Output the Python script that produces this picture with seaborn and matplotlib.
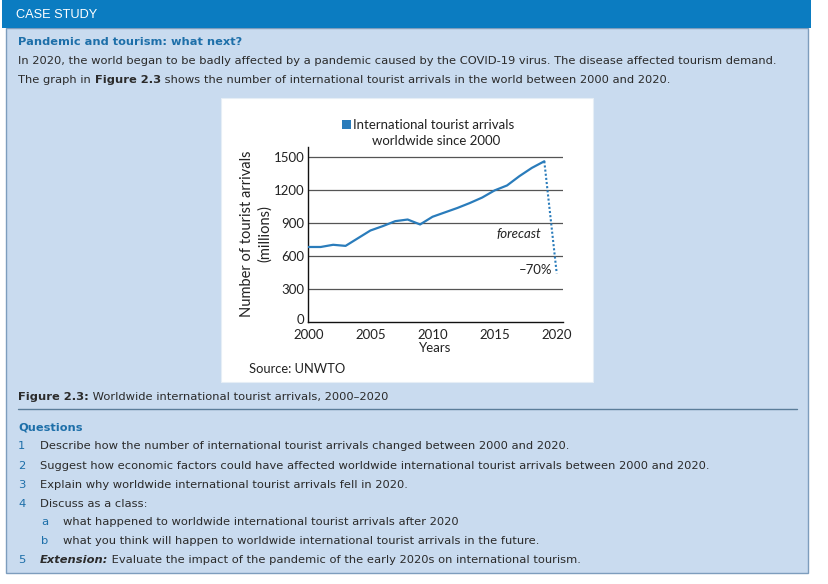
import matplotlib
matplotlib.use("Agg")
import matplotlib.pyplot as plt
import matplotlib.transforms as mtransforms
import seaborn as sns
import pandas as pd
from matplotlib.patches import Rectangle
from matplotlib.lines import Line2D

sns.set_style("white")
plt.rcParams['font.family'] = ['DejaVu Sans']

# ---------------- data ----------------
years = list(range(2000, 2020))
arrivals = [680, 680, 700, 690, 760, 830, 870, 915, 930, 885,
            955, 995, 1035, 1080, 1130, 1195, 1240, 1325, 1400, 1460]
forecast_years = [2019, 2020]
forecast_vals = [1460, 440]
y_ticks = [0, 300, 600, 900, 1200, 1500]
x_ticks = [2000, 2005, 2010, 2015, 2020]

W, H = 829, 584
fig = plt.figure(figsize=(W / 100, H / 100), dpi=100)
fig.patch.set_facecolor("white")

def fx(x): return x / W
def fy(y): return 1 - y / H

def rect(x0, y0, x1, y1, z=-5, **kw):
    r = Rectangle((fx(x0), fy(y1)), (x1 - x0) / W, (y1 - y0) / H,
                  transform=fig.transFigure, zorder=z, **kw)
    fig.add_artist(r)

BLUE_HDR = "#0b7cc1"
BODY = "#c9dbef"
HEAD = "#1d6fa9"
TXT = "#2b2b2b"
FS = 8.25

# header and body panels
rect(6, 28, 808, 573, facecolor=BODY, edgecolor="#7d9dbd", lw=1.0)
rect(2, 0, 811.5, 28, facecolor=BLUE_HDR, edgecolor="none")
rect(221, 98, 593, 382, facecolor="white", edgecolor="#e6eef6", lw=0.8)
fig.add_artist(Line2D([fx(18), fx(797)], [fy(408.5), fy(408.5)],
                      transform=fig.transFigure, color="#5b7d99", lw=1.0))

renderer = fig.canvas.get_renderer()

def seg_text(x, y, segs, size=FS):
    for s, props in segs:
        p = dict(color=TXT, fontsize=size)
        p.update(props)
        t = fig.text(fx(x), fy(y), s, va="center", ha="left", **p)
        bb = t.get_window_extent(renderer)
        x += bb.width

fig.text(fx(16), fy(14.5), "CASE STUDY", color="white", fontsize=9.2,
         family="Liberation Sans", va="center", ha="left")
fig.text(fx(18), fy(42), "Pandemic and tourism: what next?", color=HEAD,
         fontsize=8.2, fontweight="bold", va="center", ha="left")
seg_text(18, 61, [("In 2020, the world began to be badly affected by a pandemic caused by the COVID-19 virus. The disease affected tourism demand.", {})])
seg_text(18, 80, [("The graph in", {}), (" Figure 2.3", {"fontweight": "bold"}),
                  (" shows the number of international tourist arrivals in the world between 2000 and 2020.", {})])

seg_text(18, 397, [("Figure 2.3:", {"fontweight": "bold"}),
                   (" Worldwide international tourist arrivals, 2000\u20132020", {})])
fig.text(fx(18), fy(427), "Questions", color=HEAD, fontsize=8.2,
         fontweight="bold", va="center", ha="left")

questions = [
    ("1", "Describe how the number of international tourist arrivals changed between 2000 and 2020."),
    ("2", "Suggest how economic factors could have affected worldwide international tourist arrivals between 2000 and 2020."),
    ("3", "Explain why worldwide international tourist arrivals fell in 2020."),
    ("4", "Discuss as a class:"),
]
q_y = [446, 466, 485, 504]
for (n, s), yy in zip(questions, q_y):
    fig.text(fx(18), fy(yy), n, color=HEAD, fontsize=FS, va="center", ha="left")
    fig.text(fx(40), fy(yy), s, color=TXT, fontsize=FS, va="center", ha="left")
subs = [("a", "what happened to worldwide international tourist arrivals after 2020"),
        ("b", "what you think will happen to worldwide international tourist arrivals in the future.")]
for (n, s), yy in zip(subs, [522, 541]):
    fig.text(fx(41), fy(yy), n, color=HEAD, fontsize=FS, va="center", ha="left")
    fig.text(fx(63), fy(yy), s, color=TXT, fontsize=FS, va="center", ha="left")
fig.text(fx(18), fy(560), "5", color=HEAD, fontsize=FS, va="center", ha="left")
seg_text(40, 560, [("Extension:", {"fontweight": "bold", "fontstyle": "italic"}),
                   (" Evaluate the impact of the pandemic of the early 2020s on international tourism.", {})])

# ---------------- chart ----------------
CF = "Lato"
LINE = "#2a7cbb"
ax = fig.add_axes([fx(308.3), fy(321.7), (563.3 - 308.3) / W, (321.7 - 147) / H])
ax.set_zorder(5)
ax.patch.set_alpha(0)
df = pd.DataFrame({"year": years, "arrivals": arrivals})
dff = pd.DataFrame({"year": forecast_years, "arrivals": forecast_vals})
sns.lineplot(data=df, x="year", y="arrivals", ax=ax, color=LINE, lw=1.6, zorder=3)
sns.lineplot(data=dff, x="year", y="arrivals", ax=ax, color=LINE, lw=1.5,
             linestyle=(0, (1, 1)), zorder=3)
ax.set_xlim(2000, 2020.53)
ax.set_ylim(0, 1590)
ax.set_yticks(y_ticks)
ax.set_xticks(x_ticks)
ax.set_yticklabels([str(v) for v in y_ticks], fontsize=9.5, family=CF, color="#222")
ax.set_xticklabels([str(v) for v in x_ticks], fontsize=9.5, family=CF, color="#222")
ax.tick_params(axis="y", length=0, pad=3)
ax.tick_params(axis="x", length=0, pad=5)
# lift the "0" label slightly so it sits just above the 2000 label
zero_lbl = ax.get_yticklabels()[0]
zero_lbl.set_transform(zero_lbl.get_transform() +
                       mtransforms.ScaledTranslation(0, 3 / 100, fig.dpi_scale_trans))
for v in y_ticks[1:]:
    ax.axhline(v, color="#555555", lw=0.9, zorder=1)
for s in ["top", "right"]:
    ax.spines[s].set_visible(False)
for s in ["left", "bottom"]:
    ax.spines[s].set_color("#111111")
    ax.spines[s].set_linewidth(1.0)
ax.set_xlabel("")
ax.set_ylabel("")

fig.text(fx(435), fy(347.5), "Years", fontsize=9.5, family=CF, color="#222",
         ha="center", va="center")
fig.text(fx(247), fy(234), "Number of tourist arrivals", fontsize=10.5, family=CF,
         color="#222", ha="center", va="center", rotation=90)
fig.text(fx(265), fy(234), "(millions)", fontsize=10.5, family=CF,
         color="#222", ha="center", va="center", rotation=90)
fig.text(fx(249), fy(369), "Source: UNWTO", fontsize=9.3, family=CF,
         color="#222", ha="left", va="center")
fig.text(fx(519), fy(234), "forecast", fontsize=9.5, family=CF, style="italic",
         color="#222", ha="center", va="center")
fig.text(fx(552), fy(270), "\u201370%", fontsize=9.5, family=CF,
         color="#222", ha="right", va="center")

rect(342, 120, 351, 129, z=6, facecolor=LINE, edgecolor="none")
fig.text(fx(353), fy(125), "International tourist arrivals", fontsize=9.5,
         family=CF, color="#222", ha="left", va="center")
fig.text(fx(436), fy(141), "worldwide since 2000", fontsize=9.5,
         family=CF, color="#222", ha="center", va="center")

fig.savefig("out.png", dpi=100, facecolor="white")
